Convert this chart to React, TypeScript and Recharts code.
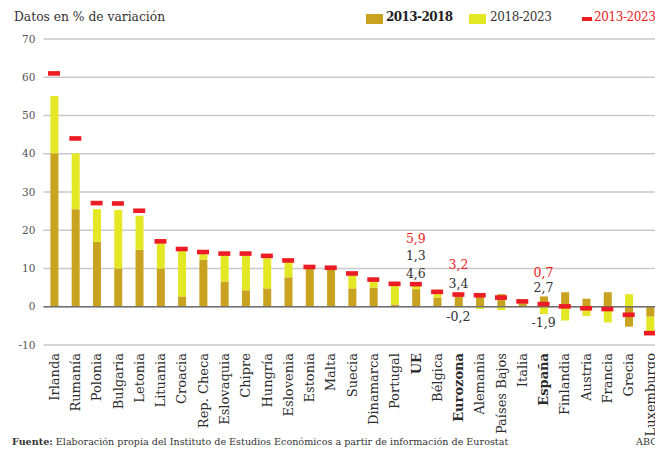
import React from "react";
import {
  ComposedChart,
  Bar,
  Line,
  XAxis,
  YAxis,
  CartesianGrid,
  ReferenceLine,
  LabelList,
} from "recharts";

const COUNTRIES = [
  "Irlanda", "Rumanía", "Polonia", "Bulgaria", "Letonia", "Lituania", "Croacia",
  "Rep. Checa", "Eslovaquia", "Chipre", "Hungría", "Eslovenia", "Estonia", "Malta",
  "Suecia", "Dinamarca", "Portugal", "UE", "Bélgica", "Eurozona", "Alemania",
  "Países Bajos", "Italia", "España", "Finlandia", "Austria", "Francia", "Grecia",
  "Luxemburgo",
];

// 2013-2018
const P1 = [
  40.1, 25.5, 17.0, 10.0, 14.9, 10.0, 2.7, 12.3, 6.6, 4.3, 4.8, 7.7, 9.9, 9.7,
  4.8, 5.0, 0.6, 4.6, 2.4, 3.4, 3.2, 3.3, 0.9, 2.7, 3.8, 2.1, 3.8, -5.2, -2.6,
];
// 2018-2023
const P2 = [
  15.0, 14.6, 8.5, 15.3, 8.9, 6.6, 11.9, 1.4, 6.7, 9.0, 7.9, 3.9, 0.3, 0.3,
  3.4, 1.6, 4.9, 1.3, 0.9, -0.2, -0.6, -0.9, 0.5, -1.9, -3.6, -2.4, -4.1, 3.3, -3.9,
];
// 2013-2023
const TOTAL = [
  61.0, 44.0, 27.1, 27.0, 25.1, 17.1, 15.1, 14.3, 13.9, 13.9, 13.3, 12.1, 10.4, 10.2,
  8.7, 7.1, 6.0, 5.9, 3.9, 3.2, 3.0, 2.4, 1.4, 0.7, 0.1, -0.4, -0.6, -2.1, -6.9,
];

const Y_TICKS = [-10, 0, 10, 20, 30, 40, 50, 60, 70];
const BOLD = ["UE", "Eurozona", "España"];

const GOLD = "#C9A21F";
const YELLOW = "#E4E723";
const RED = "#EC1C24";
const FONT = "'DejaVu Serif', serif";

const data = COUNTRIES.map((name, i) => ({
  name,
  p1: P1[i],
  p2: P2[i],
  total: TOTAL[i],
}));

const fmt = (v: number) => v.toFixed(1).replace(".", ",");

// annotation rows: [text, color, dy from the red dash]
const noteFor = (d: any) => {
  if (d.name === "UE")
    return [
      [fmt(d.total), RED, -41],
      [fmt(d.p2), "#333", -24],
      [fmt(d.p1), "#333", -6],
    ];
  if (d.name === "Eurozona")
    return [
      [fmt(d.total), RED, -26],
      [fmt(d.p1), "#333", -7],
      [fmt(d.p2), "#333", 26],
    ];
  if (d.name === "España")
    return [
      [fmt(d.total), RED, -27],
      [fmt(d.p1), "#333", -12],
      [fmt(d.p2), "#333", 23],
    ];
  return null;
};

const CountryTick = (props: any) => {
  const { x, y, payload } = props;
  const bold = BOLD.includes(payload.value);
  return (
    <text
      x={x}
      y={y}
      dy="0.36em"
      transform={`rotate(-90, ${x}, ${y})`}
      textAnchor="end"
      fontSize={13}
      fontFamily={FONT}
      fontWeight={bold ? "bold" : "normal"}
      fill="#2b2b2b"
    >
      {payload.value}
    </text>
  );
};

const Dash = (props: any) => {
  const { cx, cy, index } = props;
  if (cx == null || cy == null) return <g key={index} />;
  return <rect key={index} x={cx - 6} y={cy - 2.3} width={12} height={4.6} fill={RED} />;
};

const NoteLabel = (props: any) => {
  const { x, y, index } = props;
  const rows = noteFor(data[index]);
  if (!rows) return null;
  return (
    <g>
      {rows.map((r: any, k: number) => (
        <text
          key={k}
          x={x}
          y={y + r[2]}
          textAnchor="middle"
          fontSize={12.5}
          fontFamily={FONT}
          fill={r[1]}
        >
          {r[0]}
        </text>
      ))}
    </g>
  );
};

export default function App() {
  return (
    <div
      style={{
        position: "absolute",
        left: 0,
        top: 0,
        width: 655,
        height: 451,
        overflow: "hidden",
        background: "#fff",
        fontFamily: FONT,
      }}
    >
      <div style={{ position: "absolute", left: 14, top: 10, fontSize: 12.3, color: "#333", whiteSpace: "nowrap" }}>
        Datos en % de variación
      </div>

      {/* legend */}
      <div style={{ position: "absolute", left: 366, top: 14, width: 17, height: 10, background: GOLD }} />
      <div style={{ position: "absolute", left: 386, top: 10, fontSize: 12, fontWeight: "bold", color: "#222", letterSpacing: -0.6, whiteSpace: "nowrap" }}>
        2013-2018
      </div>
      <div style={{ position: "absolute", left: 469, top: 14, width: 17, height: 10, background: YELLOW }} />
      <div style={{ position: "absolute", left: 490, top: 10, fontSize: 12, color: "#333", letterSpacing: -0.4, whiteSpace: "nowrap" }}>
        2018-2023
      </div>
      <div style={{ position: "absolute", left: 582, top: 17, width: 10, height: 4, background: RED }} />
      <div style={{ position: "absolute", left: 594, top: 10, fontSize: 12, color: RED, letterSpacing: -0.4, whiteSpace: "nowrap" }}>
        2013-2023
      </div>

      <div style={{ position: "absolute", left: 0, top: 0 }}>
        <ComposedChart
          width={700}
          height={451}
          data={data}
          stackOffset="sign"
          margin={{ top: 39, right: 39.4, left: 0, bottom: 0 }}
        >
          <CartesianGrid vertical={false} stroke="#c9c9c9" strokeWidth={1.5} />
          <XAxis
            dataKey="name"
            interval={0}
            axisLine={false}
            tickLine={false}
            height={106}
            tick={<CountryTick />}
          />
          <YAxis
            width={43.4}
            domain={[-10, 70]}
            ticks={Y_TICKS}
            axisLine={false}
            tickLine={false}
            tick={{ fontSize: 10.5, fill: "#555", fontFamily: FONT }}
          />
          <ReferenceLine y={0} stroke="#707070" strokeWidth={1.6} />
          <Bar dataKey="p1" stackId="s" fill={GOLD} barSize={8} isAnimationActive={false} />
          <Bar dataKey="p2" stackId="s" fill={YELLOW} barSize={8} isAnimationActive={false} />
          <Line
            dataKey="total"
            stroke="none"
            dot={<Dash />}
            activeDot={false}
            isAnimationActive={false}
          >
            <LabelList dataKey="total" content={<NoteLabel />} />
          </Line>
        </ComposedChart>
      </div>

      <div style={{ position: "absolute", left: 12, top: 436, fontSize: 9.6, color: "#333", whiteSpace: "nowrap" }}>
        <b>Fuente:</b> Elaboración propia del Instituto de Estudios Económicos a partir de información de Eurostat
      </div>
      <div style={{ position: "absolute", left: 636, top: 436, fontSize: 9.6, color: "#333", whiteSpace: "nowrap" }}>ABC</div>
    </div>
  );
}
